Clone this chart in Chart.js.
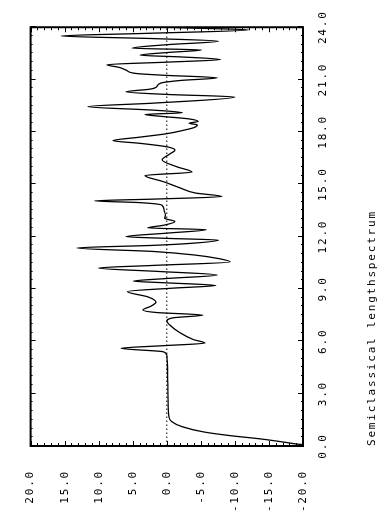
<!DOCTYPE html>
<html>
<head>
<meta charset="utf-8">
<script src="https://cdn.jsdelivr.net/npm/chart.js@4.4.0/dist/chart.umd.min.js"></script>
<style>
  html, body { margin: 0; padding: 0; background: #fff; overflow: hidden; }
  /* the plot is drawn landscape and turned a quarter to the left, like the scanned page */
  #wrap {
    position: absolute; left: 0; top: 0; width: 523px; height: 381px;
    transform-origin: 0 0; transform: translate(0, 523px) rotate(-90deg);
  }
</style>
</head>
<body>
<div id="wrap"><canvas id="spectrum" width="523" height="381"></canvas></div>
<script>
// length axis (x) and spectrum value (y)
const lengths = [
  0.06, 0.1, 0.2, 0.4, 0.6, 0.8, 1.1, 1.4, 1.7, 2.5, 3.5, 4.5, 5.2, 5.4, 5.6, 5.75, 5.9, 6.1, 6.5, 6.95,
  7.15, 7.35, 7.5, 7.65, 7.8, 8.0, 8.25, 8.55, 8.85, 9.05, 9.2, 9.35, 9.45, 9.6, 9.8, 10.0, 10.2, 10.35, 10.55, 10.75,
  10.95, 11.15, 11.35, 11.5, 11.6, 11.8, 11.9, 12.0, 12.2, 12.4, 12.5, 12.65, 12.87, 13.05, 13.25, 13.5, 13.8, 13.95, 14.05, 14.15,
  14.3, 14.5, 14.8, 15.15, 15.5, 15.7, 16.0, 16.4, 16.75, 16.95, 17.15, 17.35, 17.5, 17.7, 17.9, 18.1, 18.25, 18.4, 18.5, 18.6,
  18.75, 18.9, 19.0, 19.1, 19.25, 19.45, 19.65, 20.0, 20.15, 20.3, 20.45, 20.55, 20.8, 20.95, 21.1, 21.25, 21.35, 21.55, 21.7, 21.85,
  22.0, 22.15, 22.3, 22.4, 22.55, 22.7, 22.8, 23.0, 23.2, 23.35, 23.5, 23.65, 23.85, 23.95, 24.0
];
const spectrum = [
  -21, -19.4, -17.6, -13.9, -9.2, -5.5, -2.3, -0.7, -0.3, -0.2, -0.15, -0.1, 0, 0.5, 6.7, 0.5, -5.6, -3.9, -1.9, -0.4,
  0, -1, -5.3, 1.5, 3.5, 2.4, 1.6, 2.8, 5.8, -1, -7.2, 0, 4.9, 0, -7.4, 1, 10, 2, -9.3, -7.5,
  -4, 2, 13.2, 2, -3, -7.6, 0, 6, 0, -5.8, 2.8, 0.5, -1.2, 0.3, 0.2, 0.4, 0.7, 4, 10.6, 2,
  -8.1, -4.2, -1.9, 0.5, 3.2, -3.7, -1.5, 0.7, -0.5, -1.2, 0, 4, 7.9, 4, 0, -2.5, -4, -4.5, -3.3, -4.6,
  -3.2, 1, 3.2, -2.3, 2, 11.6, 2, -10, 0, 6, 2.5, 1.6, 0.9, -2, -7.4, 0.5, 4.5, 6, 7, 8.8,
  0, -7.9, -2, 3.9, 0, -5.1, 5.1, 0, -7.6, 2, 15.5, 3, -12, -4, 0
];
const lengthTicks = [0, 3, 6, 9, 12, 15, 18, 21, 24];
const valueTicks = [-20, -15, -10, -5, 0, 5, 10, 15, 20];

const points = lengths.map((l, i) => ({ x: l, y: spectrum[i] }));
const zeroLine = [{ x: lengthTicks[0], y: 0 }, { x: lengthTicks[lengthTicks.length - 1], y: 0 }];

const monoFont = "'DejaVu Sans Mono', monospace";

// plotter style text is spread out a bit
const spacingPlugin = {
  id: 'spacing',
  beforeDraw(chart) { chart.ctx.letterSpacing = '1.8px'; }
};

// frame with inward ticks on all four sides
const framePlugin = {
  id: 'frame',
  afterDraw(chart) {
    const { ctx, chartArea: a, scales: { x, y } } = chart;
    const seg = (x1, y1, x2, y2) => { ctx.beginPath(); ctx.moveTo(x1, y1); ctx.lineTo(x2, y2); ctx.stroke(); };
    ctx.save();
    ctx.strokeStyle = '#000';
    ctx.lineWidth = 1;
    for (let v = valueTicks[0]; v <= valueTicks[valueTicks.length - 1]; v += 1) {
      const py = Math.round(y.getPixelForValue(v)) + 0.5;
      const len = v % 5 === 0 ? 5 : 3;
      seg(a.left, py, a.left + len, py);
      seg(a.right, py, a.right - len, py);
    }
    for (let l = lengthTicks[0]; l <= lengthTicks[lengthTicks.length - 1]; l += 0.5) {
      const px = Math.round(x.getPixelForValue(l)) + 0.5;
      const len = l % 3 === 0 ? 5 : 2;
      seg(px, a.top, px, a.top + len);
      seg(px, a.bottom, px, a.bottom - len);
    }
    ctx.lineWidth = 2;
    ctx.strokeRect(a.left, a.top, a.right - a.left, a.bottom - a.top);
    ctx.restore();
  }
};

new Chart(document.getElementById('spectrum'), {
  type: 'line',
  data: {
    datasets: [
      {
        data: points,
        borderColor: '#000',
        borderWidth: 1.3,
        pointRadius: 0,
        cubicInterpolationMode: 'monotone',
        fill: false
      },
      {
        data: zeroLine,
        borderColor: '#000',
        borderWidth: 1,
        borderDash: [1.5, 2.5],
        pointRadius: 0,
        fill: false
      }
    ]
  },
  options: {
    responsive: false,
    animation: false,
    events: [],
    layout: { padding: { left: 0, right: 18, top: 15, bottom: 0 } },
    plugins: {
      legend: { display: false },
      tooltip: { enabled: false }
    },
    scales: {
      x: {
        type: 'linear',
        min: 0,
        max: 24,
        afterBuildTicks: (s) => { s.ticks = lengthTicks.map(v => ({ value: v })); },
        afterFit: (s) => { s.height = 78; },
        grid: { display: false, drawTicks: false },
        border: { display: false },
        ticks: {
          color: '#000',
          font: { family: monoFont, size: 11 },
          padding: 14,
          maxRotation: 0,
          callback: (v) => Number(v).toFixed(1)
        },
        title: {
          display: true,
          text: 'Semiclassical lengthspectrum',
          align: 'start',
          color: '#000',
          font: { family: monoFont, size: 11 },
          padding: { top: 0, bottom: 2 }
        }
      },
      y: {
        type: 'linear',
        min: -20,
        max: 20,
        afterBuildTicks: (s) => { s.ticks = valueTicks.map(v => ({ value: v })); },
        afterFit: (s) => { s.width = 77; },
        grid: { display: false, drawTicks: false },
        border: { display: false },
        ticks: {
          color: '#000',
          font: { family: monoFont, size: 11 },
          padding: 24,
          callback: (v) => Number(v).toFixed(1)
        }
      }
    }
  },
  plugins: [spacingPlugin, framePlugin]
});
</script>
</body>
</html>
